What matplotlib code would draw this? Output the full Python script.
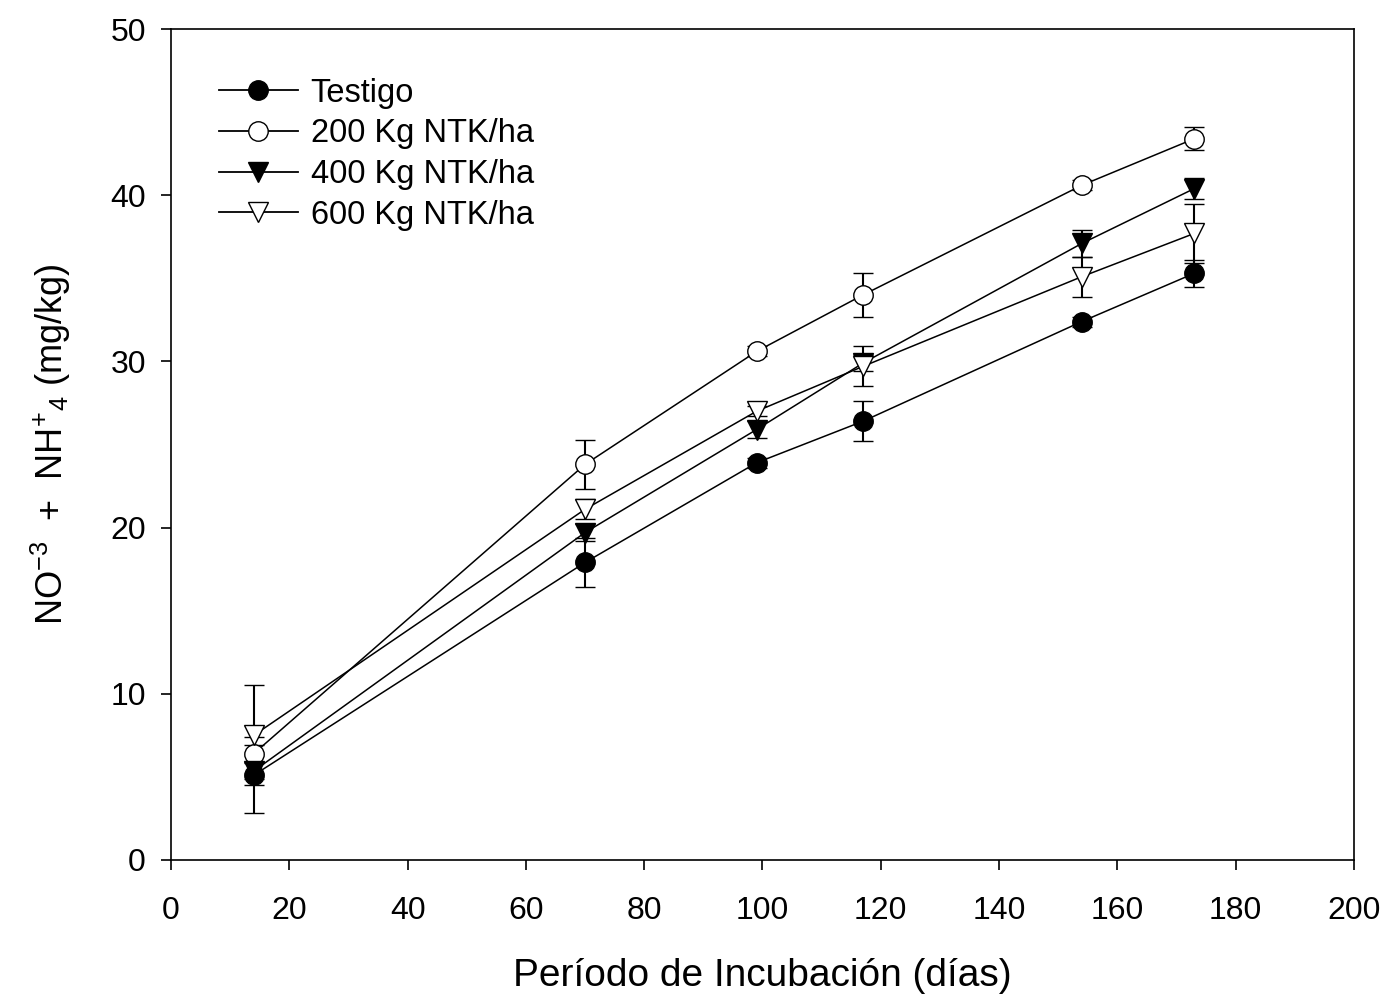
import numpy as np
import matplotlib.pyplot as plt
from matplotlib.lines import Line2D

plt.rcParams['font.family'] = ['Liberation Sans', 'DejaVu Sans']
plt.rcParams['mathtext.fontset'] = 'custom'
plt.rcParams['mathtext.rm'] = 'Liberation Sans'
plt.rcParams['mathtext.it'] = 'Liberation Sans'

# dias de incubacion
dias = [14, 70, 99, 117, 154, 173]

testigo = [5.1, 17.9, 23.9, 26.4, 32.4, 35.3]
testigo_err = [2.3, 1.5, 0.3, 1.2, 0.3, 0.8]

kg200 = [6.4, 23.8, 30.6, 34.0, 40.6, 43.4]
kg200_err = [0.5, 1.5, 0.3, 1.3, 0.3, 0.7]

kg400 = [5.35, 19.7, 25.9, 29.9, 37.1, 40.4]
kg400_err = [0.5, 0.5, 0.5, 0.5, 0.8, 0.65]

kg600 = [7.5, 21.1, 27.0, 29.7, 35.1, 37.7]
kg600_err = [3.0, 0.6, 0.3, 1.2, 1.2, 1.8]

nombres = ['Testigo', '200 Kg NTK/ha', '400 Kg NTK/ha', '600 Kg NTK/ha']

fig = plt.figure(figsize=(13.91, 10.01), dpi=100)
ax = fig.add_axes([0.1229, 0.1409, 0.8505, 0.8301])

series = [
    (testigo, testigo_err, 'o', 'black'),
    (kg200, kg200_err, 'o', 'white'),
    (kg400, kg400_err, 'v', 'black'),
    (kg600, kg600_err, 'v', 'white'),
]

handles = []
for (vals, err, mk, fc), nombre in zip(series, nombres):
    ax.errorbar(dias, vals, yerr=err, fmt='-', marker=mk, color='black',
                mfc=fc, mec='black', mew=1.0, ms=14, lw=1.1,
                elinewidth=1.5, capsize=7, capthick=1.5)
    # leyenda sin barras de error
    handles.append(Line2D([], [], color='black', lw=1.3, marker=mk, mfc=fc,
                          mec='black', mew=1.0, ms=14, label=nombre))

ax.set_xlim(0, 200)
ax.set_ylim(0, 50)
ax.set_xticks(np.arange(0, 201, 20))
ax.set_yticks(np.arange(0, 51, 10))
ax.tick_params(direction='out', length=7, width=1.2, labelsize=23)
ax.tick_params(axis='x', pad=19)
ax.tick_params(axis='y', pad=11)
for s in ax.spines.values():
    s.set_linewidth(1.2)

ax.set_xlabel('Período de Incubación (días)', fontsize=28, labelpad=23)
ax.set_ylabel(r'NO$^{\mathregular{-3}}$  +  NH$^{\mathregular{+}}$$_{\mathregular{4}}$ (mg/kg)',
              fontsize=26, labelpad=27)

ax.legend(handles=handles, loc='upper left', bbox_to_anchor=(0.016, 0.977),
          frameon=False, fontsize=23.5, handlelength=2.4, handletextpad=0.4,
          labelspacing=0.3)

fig.savefig('out.png', dpi=100)
